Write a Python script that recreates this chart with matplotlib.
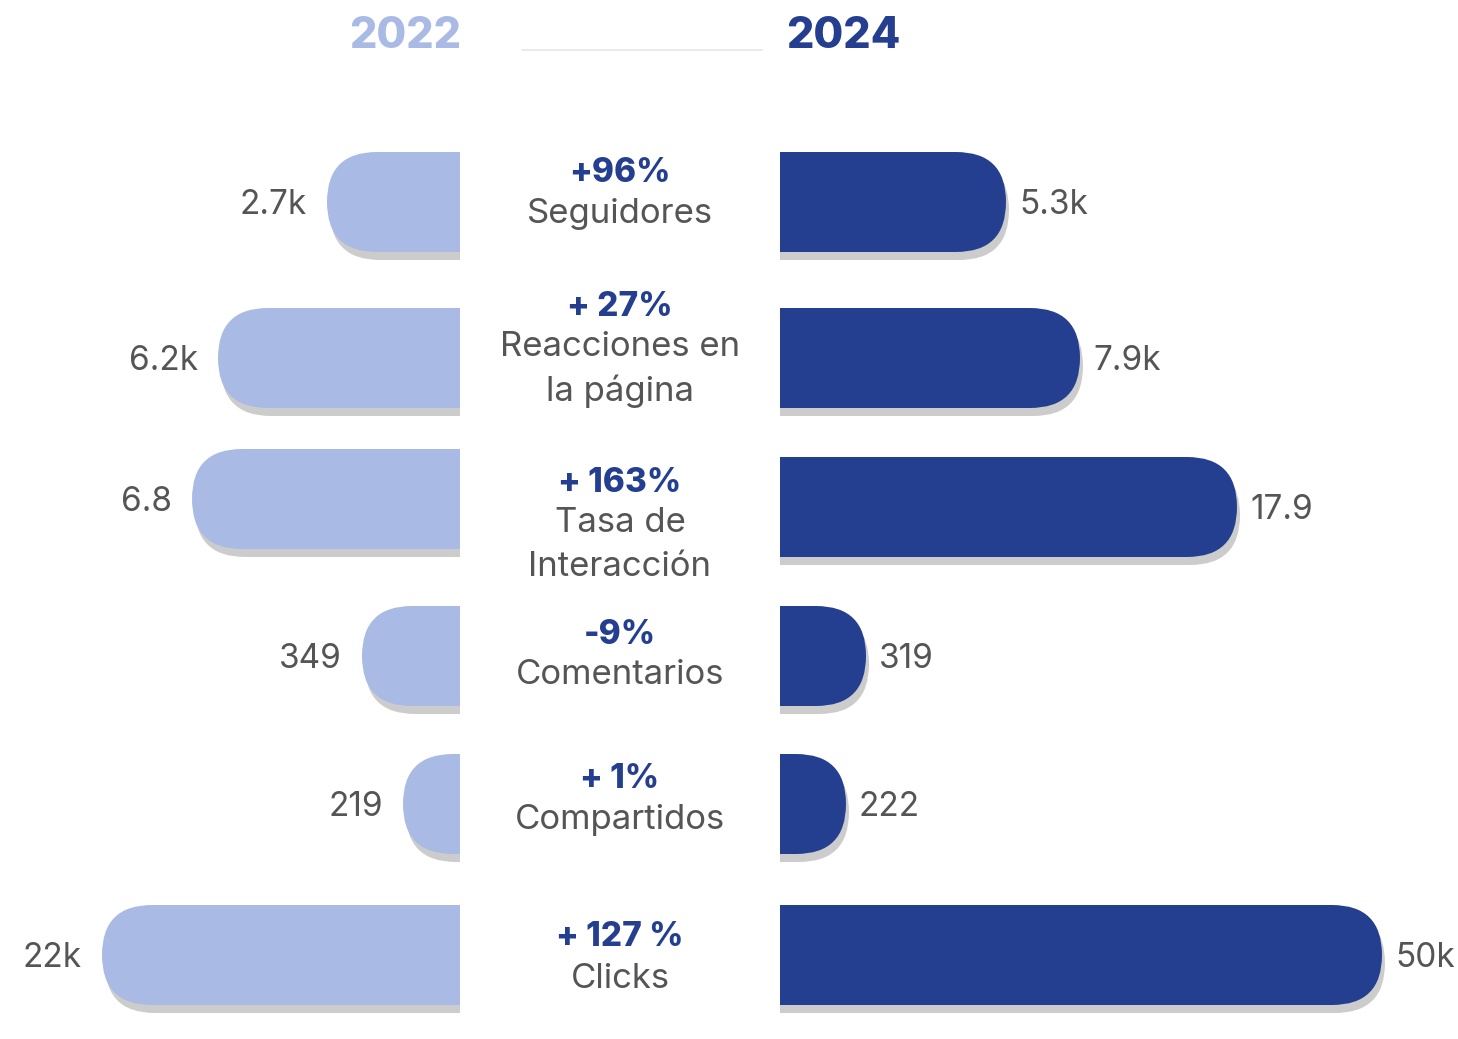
import matplotlib.pyplot as plt
from matplotlib.patches import FancyBboxPatch, Rectangle

# data
metrics = ["Seguidores", "Reacciones en\nla página", "Tasa de\nInteracción",
           "Comentarios", "Compartidos", "Clicks"]
changes = ["+96%", "+ 27%", "+ 163%", "-9%", "+ 1%", "+ 127 %"]
labels_2022 = ["2.7k", "6.2k", "6.8", "349", "219", "22k"]
labels_2024 = ["5.3k", "7.9k", "17.9", "319", "222", "50k"]
# bar lengths as drawn in the infographic (not to scale with the values)
bars_2022 = [133, 242, 268, 98, 57, 358]
bars_2024 = [226, 300, 457, 86, 66, 602]

light = "#a9bae5"
dark = "#243f8f"
grey = "#555555"
shadow = "#cccccc"

W, H = 1458, 1039
fig = plt.figure(figsize=(W / 100, H / 100), dpi=100)
ax = fig.add_axes([0, 0, 1, 1])
ax.set_xlim(0, W)
ax.set_ylim(H, 0)
ax.axis("off")

plt.rcParams["font.family"] = ["Inter", "DejaVu Sans"]

left_edge = 460
right_edge = 780
rows_y = [202, 358, 503, 656, 804, 955]
text_y = [194, 349, 525, 655, 800, 958]
bh = 100
r = 50


def pill(x0, y0, w, color, z):
    p = FancyBboxPatch((x0, y0), w, bh, boxstyle=f"round,pad=0,rounding_size={r}",
                       fc=color, ec="none", zorder=z)
    ax.add_patch(p)


for i, y in enumerate(rows_y):
    yl = y - 4 if i == 2 else y
    yr = y + 4 if i == 2 else y
    L = bars_2022[i]
    R = bars_2024[i]
    # left (2022)
    pill(left_edge - L + 3, yl - bh / 2 + 8, L + 60, shadow, 1)
    pill(left_edge - L, yl - bh / 2, L + 60, light, 2)
    ax.text(left_edge - L - 20, yl + 3, labels_2022[i], ha="right", va="center",
            fontsize=24, color=grey, zorder=5)
    # right (2024)
    pill(right_edge - 60 + 3, yr - bh / 2 + 8, R + 60, shadow, 1)
    pill(right_edge - 60, yr - bh / 2, R + 60, dark, 2)
    ax.text(right_edge + R + 13, yr + 3, labels_2024[i], ha="left", va="center",
            fontsize=24, color=grey, zorder=5)

# white centre column
ax.add_patch(Rectangle((left_edge, 0), right_edge - left_edge, H, fc="white", ec="none", zorder=3))

# centre texts
for i, yc in enumerate(text_y):
    lines = metrics[i].split("\n")
    span = 41 + 44 * (len(lines) - 1)
    top = yc - span / 2
    ax.text(620, top, changes[i], ha="center", va="center", fontsize=24,
            fontweight="heavy", color=dark, zorder=5)
    for j, line in enumerate(lines):
        ax.text(620, top + 41 + 44 * j, line, ha="center", va="center",
                fontsize=25, color=grey, zorder=5)

# header
ax.text(405, 36, "2022", ha="center", va="center", fontsize=31, fontweight="heavy", color=light)
ax.text(843, 36, "2024", ha="center", va="center", fontsize=31, fontweight="heavy", color=dark)
ax.plot([522, 762], [50, 50], color="#e8e8e8", lw=1.2, zorder=4)

fig.savefig("out.png", dpi=100, facecolor="white")
